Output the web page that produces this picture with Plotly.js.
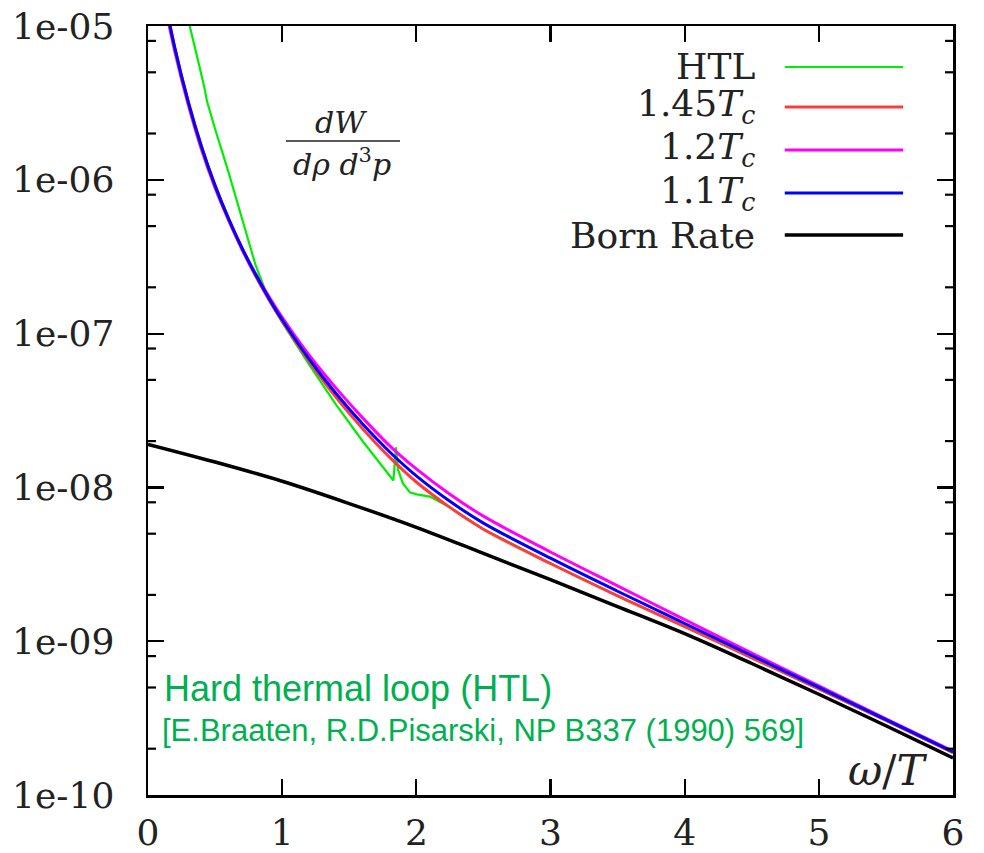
<!DOCTYPE html>
<html>
<head>
<meta charset="utf-8">
<script src="https://cdn.plot.ly/plotly-3.0.1.min.js"></script>
<style>
html,body{margin:0;padding:0;background:#fff;}
#chart{width:984px;height:853px;}
</style>
</head>
<body>
<div id="chart"></div>
<script>
// ---- data ----
const xLattice = [0.1,0.2,0.3,0.4,0.5,0.6,0.7,0.8,0.9,1.0,1.2,1.4,1.6,1.8,2.0,2.25,2.5,3.0,3.5,4.0,4.5,5.0,5.5,6.0];

const rate145Tc = [1.766e-5,6.792e-6,3.069e-6,1.556e-6,8.851e-7,5.458e-7,3.524e-7,2.382e-7,1.667e-7,1.202e-7,6.622e-8,3.864e-8,2.410e-8,1.574e-8,1.084e-8,7.413e-9,5.346e-9,3.199e-9,1.972e-9,1.245e-9,7.798e-10,4.898e-10,3.055e-10,1.884e-10];
const rate12Tc  = [1.892e-5,7.194e-6,3.214e-6,1.629e-6,9.162e-7,5.585e-7,3.606e-7,2.466e-7,1.746e-7,1.274e-7,7.261e-8,4.436e-8,2.831e-8,1.871e-8,1.318e-8,9.016e-9,6.501e-9,3.802e-9,2.291e-9,1.380e-9,8.356e-10,5.129e-10,3.126e-10,1.928e-10];
const rate11Tc  = [1.892e-5,7.194e-6,3.214e-6,1.629e-6,9.162e-7,5.585e-7,3.606e-7,2.438e-7,1.706e-7,1.230e-7,6.855e-8,4.093e-8,2.582e-8,1.706e-8,1.189e-8,8.128e-9,5.861e-9,3.467e-9,2.113e-9,1.303e-9,8.072e-10,5.012e-10,3.090e-10,1.905e-10];

const xHTL   = [0.25,0.313,0.38,0.42,0.43,0.433,0.44,0.5,0.6,0.7,0.8,0.9,1.0,1.2,1.4,1.6,1.829,1.848,1.863,1.9,1.952,2.004,2.1,2.25,2.5,3.0,3.5,4.0,4.5,5.0,5.5,6.0];
const rateHTL = [1.660e-5,1.000e-5,5.623e-6,3.981e-6,3.631e-6,3.388e-6,3.236e-6,2.138e-6,1.122e-6,5.623e-7,2.818e-7,1.667e-7,1.180e-7,6.310e-8,3.467e-8,1.995e-8,1.109e-8,1.820e-8,1.309e-8,1.062e-8,9.290e-9,9.016e-9,8.710e-9,7.413e-9,5.346e-9,3.199e-9,1.972e-9,1.245e-9,7.798e-10,4.898e-10,3.055e-10,1.884e-10];

const xBorn    = [0,0.5,1,1.5,2,2.5,3,3.5,4,4.5,5,5.5,6];
const rateBorn = [1.905e-8,1.462e-8,1.096e-8,7.85e-9,5.50e-9,3.72e-9,2.51e-9,1.68e-9,1.12e-9,7.16e-10,4.52e-10,2.82e-10,1.74e-10];

const xTicks = [0,1,2,3,4,5,6];
const yTicks = [1e-10,1e-9,1e-8,1e-7,1e-6,1e-5];
const yTickText = ['1e-10','1e-09','1e-08','1e-07','1e-06','1e-05'];
const yMinorTicks = [2e-10,5e-10,8e-10,2e-9,5e-9,8e-9,2e-8,5e-8,8e-8,2e-7,5e-7,8e-7,2e-6,5e-6,8e-6];

const seriesNames  = ['HTL','1.45<i>T</i><sub><i>c</i></sub>','1.2<i>T</i><sub><i>c</i></sub>','1.1<i>T</i><sub><i>c</i></sub>','Born Rate'];
const seriesColors = ['#00ee00','#ff3b3b','#ff00ff','#0000ff','#000000'];
const seriesWidths = [2.2,3,3,3,3.5];

// ---- traces (drawing order: HTL, 1.45Tc, 1.2Tc, 1.1Tc, Born) ----
const xs = [xHTL, xLattice, xLattice, xLattice, xBorn];
const ys = [rateHTL, rate145Tc, rate12Tc, rate11Tc, rateBorn];
const traces = xs.map((x,i)=>({
  x:x, y:ys[i], type:'scatter', mode:'lines', showlegend:false,
  line:{color:seriesColors[i], width:seriesWidths[i], shape:'spline', smoothing:1},
  hoverinfo:'skip'
}));
traces[0].line.shape = 'linear';

const yRange = [-10,-5];
const xRange = [0,6];
const annotations = [];
const shapes = [];

// minor y ticks (left and mirrored right), placed on the log axis scale
const plotW = 805;
yMinorTicks.forEach(v=>{
  const yp = (Math.log10(v)-yRange[0])/(yRange[1]-yRange[0]);
  shapes.push({type:'line',layer:'above',xref:'paper',yref:'paper',x0:0,x1:8/plotW,y0:yp,y1:yp,line:{color:'#000',width:2.2}});
  shapes.push({type:'line',layer:'above',xref:'paper',yref:'paper',x0:1-8/plotW,x1:1,y0:yp,y1:yp,line:{color:'#000',width:2.2}});
});

// ---- manual gnuplot-style key (text left of sample line) ----
const keyY = [0.9467,0.8947,0.8388,0.7828,0.7282];
seriesNames.forEach((n,i)=>{
  annotations.push({xref:'paper',yref:'paper',x:0.7565,y:keyY[i],xanchor:'right',yanchor:'middle',
    text:n,showarrow:false,font:{family:'DejaVu Serif',size:36,color:'#222'}});
  shapes.push({type:'line',xref:'paper',yref:'paper',x0:0.791,x1:0.938,y0:keyY[i],y1:keyY[i],
    line:{color:seriesColors[i],width:seriesWidths[i]}});
});

// fraction dW / (dρ d³p)
annotations.push({xref:'paper',yref:'paper',x:0.2398,y:0.8739,xanchor:'center',yanchor:'middle',
  text:'<i>dW</i>',showarrow:false,font:{family:'DejaVu Serif',size:30,color:'#222'}});
annotations.push({xref:'paper',yref:'paper',x:0.2410,y:0.8231,xanchor:'center',yanchor:'middle',
  text:'<i>dρ d</i><sup>3</sup><i>p</i>',showarrow:false,font:{family:'DejaVu Serif',size:30,color:'#222'}});
shapes.push({type:'line',xref:'paper',yref:'paper',x0:0.1714,x1:0.313,y0:0.8505,y1:0.8505,line:{color:'#222',width:1.5}});

// axis label ω/T
annotations.push({xref:'paper',yref:'paper',x:0.919,y:0.0325,xanchor:'center',yanchor:'middle',
  text:'<i>ω</i>/<i>T</i>',showarrow:false,font:{family:'DejaVu Serif',size:42,color:'#222'}});

// green HTL note
annotations.push({xref:'paper',yref:'paper',x:0.0174,y:0.1391,xanchor:'left',yanchor:'middle',
  text:'Hard thermal loop (HTL)',showarrow:false,font:{family:'Liberation Sans',size:36,color:'#00b050'}});
annotations.push({xref:'paper',yref:'paper',x:0.0150,y:0.0845,xanchor:'left',yanchor:'middle',
  text:'[E.Braaten, R.D.Pisarski, NP B337 (1990) 569]',showarrow:false,font:{family:'Liberation Sans',size:31,color:'#00b050'}});

const axisLine = {showline:true, linecolor:'#000', linewidth:2.5, mirror:'ticks', showgrid:false, zeroline:false};

const layout = {
  width:984, height:853,
  margin:{l:148, r:31, t:26, b:58, pad:0},
  paper_bgcolor:'#fff', plot_bgcolor:'#fff',
  showlegend:false,
  xaxis:Object.assign({
    range:xRange, tickmode:'array', tickvals:xTicks, ticktext:xTicks.map(String),
    ticks:'inside', ticklen:16, tickwidth:2.2, tickcolor:'#000',
    tickfont:{family:'DejaVu Serif', size:36, color:'#222'}, ticklabelstandoff:4
  }, axisLine),
  yaxis:Object.assign({
    type:'log', range:yRange, tickmode:'array', tickvals:yTicks, ticktext:yTickText,
    ticks:'inside', ticklen:16, tickwidth:2.2, tickcolor:'#000',
    tickfont:{family:'DejaVu Serif', size:36, color:'#222'}, ticklabelstandoff:24
  }, axisLine),
  annotations:annotations,
  shapes:shapes
};

Plotly.newPlot('chart', traces, layout, {staticPlot:true, displayModeBar:false});
</script>
</body>
</html>
